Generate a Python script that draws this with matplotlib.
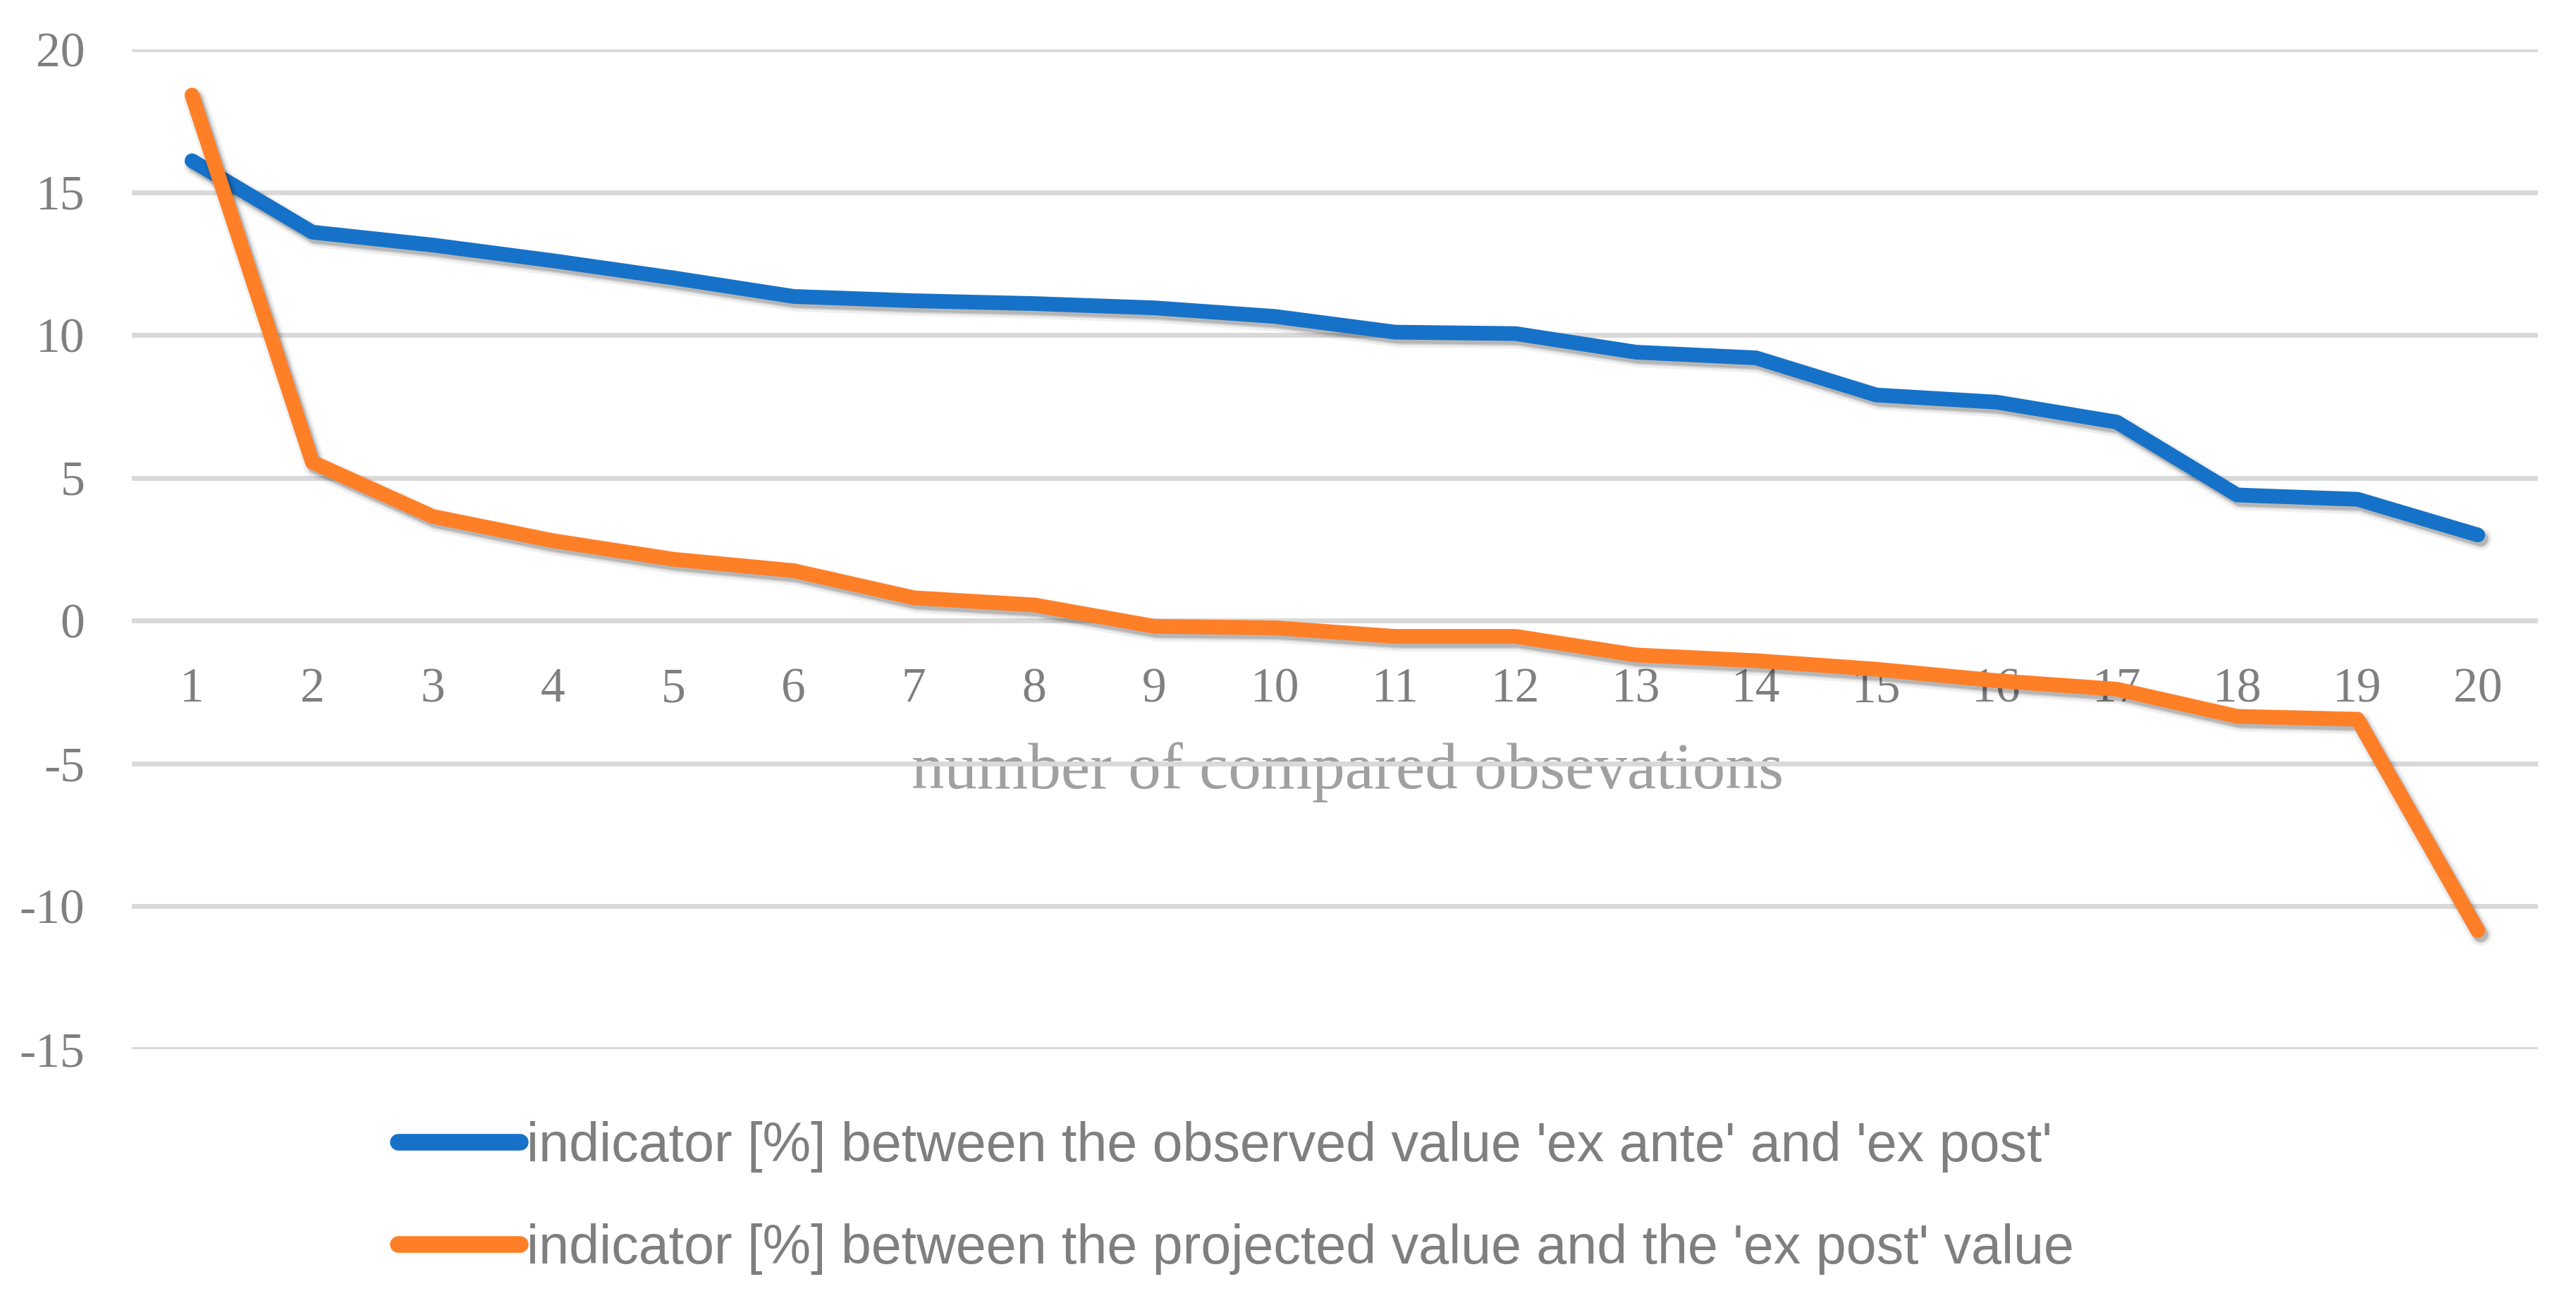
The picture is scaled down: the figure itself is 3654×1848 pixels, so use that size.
import matplotlib
matplotlib.use("Agg")
import matplotlib.pyplot as plt
import matplotlib.patheffects as pe
from matplotlib.lines import Line2D
import numpy as np

plt.rcParams['axes.unicode_minus'] = False

# data
obs = list(range(1, 21))
ex_ante_vs_post = [16.1, 13.6, 13.15, 12.6, 12.0, 11.35, 11.2, 11.1, 10.95, 10.65,
                   10.1, 10.05, 9.4, 9.2, 7.9, 7.65, 6.95, 4.4, 4.25, 3.0]
projected_vs_post = [18.4, 5.55, 3.65, 2.8, 2.15, 1.75, 0.8, 0.55, -0.2, -0.25,
                     -0.55, -0.55, -1.2, -1.4, -1.7, -2.1, -2.4, -3.35, -3.45, -10.85]
y_ticks = [-15, -10, -5, 0, 5, 10, 15, 20]
labels = ["indicator [%] between the observed value 'ex ante' and 'ex post'",
          "indicator [%] between the projected value and the 'ex post' value"]
x_title = "number of compared obsevations"

blue = '#1672C8'
orange = '#FF7F27'
tick_grey = '#7F7F7F'

fig = plt.figure(figsize=(36.55, 18.48), dpi=100)
ax = fig.add_axes([187/3655, 1 - 1488/1848, (3600-187)/3655, (1488-70)/1848])

lw = 15
def shadow():
    return [pe.SimpleLineShadow(offset=(3, -4), shadow_color='k', alpha=0.06, linewidth=lw+8),
            pe.SimpleLineShadow(offset=(3, -4), shadow_color='k', alpha=0.10, linewidth=lw+3),
            pe.SimpleLineShadow(offset=(3, -4), shadow_color='k', alpha=0.15),
            pe.Normal()]

ax.plot(obs, ex_ante_vs_post, color=blue, lw=lw, solid_capstyle='round',
        solid_joinstyle='round', path_effects=shadow(), zorder=3, clip_on=False)
ax.plot(obs, projected_vs_post, color=orange, lw=lw, solid_capstyle='round',
        solid_joinstyle='round', path_effects=shadow(), zorder=4, clip_on=False)

ax.set_xlim(0.5, 20.5)
ax.set_ylim(-15, 20)
ax.set_yticks(y_ticks)
ax.set_yticklabels([str(v) for v in y_ticks])
ax.set_xticks(obs)
ax.set_xticklabels([str(v) for v in obs])

ax.grid(axis='y', color='#D9D9D9', lw=5)
ax.set_axisbelow(True)
for s in ['top', 'right', 'left']:
    ax.spines[s].set_visible(False)
ax.spines['bottom'].set_position(('data', 0))
ax.spines['bottom'].set_visible(False)

serif = ['Liberation Serif', 'DejaVu Serif']
ax.tick_params(axis='y', length=0, pad=48, labelsize=50, labelcolor=tick_grey)
ax.tick_params(axis='x', length=0, pad=48, labelsize=50, labelcolor=tick_grey)
for t in ax.get_xticklabels() + ax.get_yticklabels():
    t.set_family(serif)

ax.set_xlabel(x_title, fontsize=67, color='#A0A0A0', family=serif)
ax.xaxis.set_label_coords((1912-187)/3413, (1488-1052)/1418)
ax.xaxis.label.set_va('top')

handles = [Line2D([0], [0], color=blue, lw=17, solid_capstyle='round'),
           Line2D([0], [0], color=orange, lw=17, solid_capstyle='round')]
fig.legend(handles, labels, loc='upper left', bbox_to_anchor=(565/3655, 1 - 1590/1848),
           frameon=False, handlelength=2.25, handletextpad=0.11, labelspacing=0.93,
           borderaxespad=0, borderpad=0,
           prop={'family': ['Liberation Sans', 'DejaVu Sans'], 'size': 55.5},
           labelcolor=tick_grey)

fig.savefig('out.png', dpi=100, facecolor='white')
